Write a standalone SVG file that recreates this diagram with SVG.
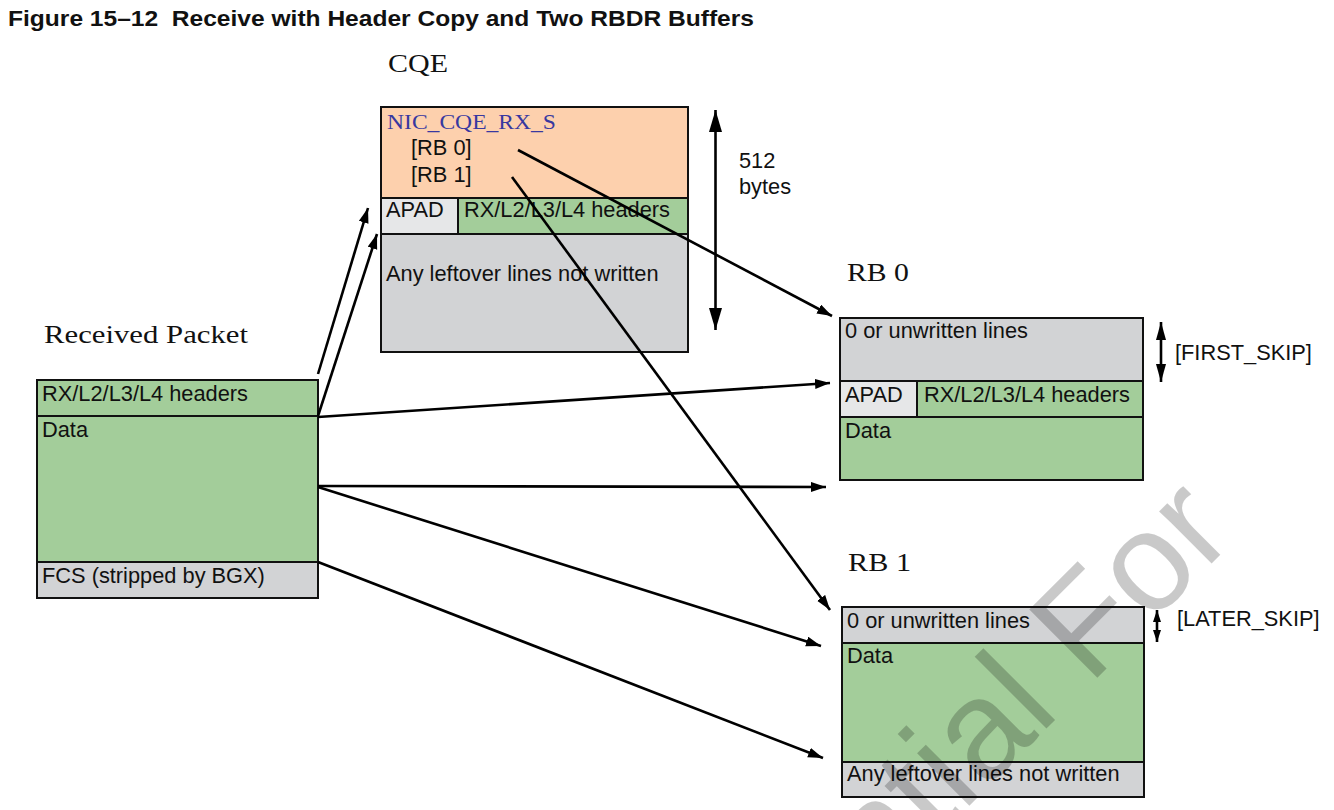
<svg xmlns="http://www.w3.org/2000/svg" width="1334" height="810" viewBox="0 0 1334 810">
<style>
.s{font-family:"Liberation Sans",Arial,sans-serif;font-size:21.8px;fill:#111}
.sf{font-family:"Liberation Serif","Times New Roman",serif;font-size:25px;fill:#111}
.box{stroke:#111;stroke-width:2}
.g{fill:#a3cd9a}
.gr{fill:#d2d3d5}
.lg{fill:#e6e7e8}
.or{fill:#fdd0ad}
.c{stroke:#000;stroke-width:2.6;fill:none}
</style>
<defs>
<marker id="ah" markerUnits="userSpaceOnUse" markerWidth="16" markerHeight="12" refX="15" refY="5" orient="auto"><path d="M0,0 L15,5 L0,10 z" fill="#000"/></marker>
<marker id="dbE" markerUnits="userSpaceOnUse" markerWidth="24" markerHeight="14" refX="22" refY="6.5" orient="auto"><path d="M0,0 L22,6.5 L0,13 z" fill="#000"/></marker>
<marker id="dbS" markerUnits="userSpaceOnUse" markerWidth="24" markerHeight="14" refX="0" refY="6.5" orient="auto"><path d="M22,0 L0,6.5 L22,13 z" fill="#000"/></marker>
<marker id="mdE" markerUnits="userSpaceOnUse" markerWidth="20" markerHeight="12" refX="18" refY="5" orient="auto"><path d="M0,0 L18,5 L0,10 z" fill="#000"/></marker>
<marker id="mdS" markerUnits="userSpaceOnUse" markerWidth="20" markerHeight="12" refX="0" refY="5" orient="auto"><path d="M18,0 L0,5 L18,10 z" fill="#000"/></marker>
<marker id="smE" markerUnits="userSpaceOnUse" markerWidth="14" markerHeight="9" refX="12" refY="4" orient="auto"><path d="M0,0 L12,4 L0,8 z" fill="#000"/></marker>
<marker id="smS" markerUnits="userSpaceOnUse" markerWidth="14" markerHeight="9" refX="0" refY="4" orient="auto"><path d="M12,0 L0,4 L12,8 z" fill="#000"/></marker>
</defs>
<rect width="1334" height="810" fill="#fff"/>

<text x="8" y="26" xml:space="preserve" style="font-family:'Liberation Sans',Arial,sans-serif;font-weight:bold;font-size:22px" fill="#111" textLength="746" lengthAdjust="spacingAndGlyphs">Figure 15–12  Receive with Header Copy and Two RBDR Buffers</text>

<g id="cqe">
<text class="sf" x="388" y="72" textLength="60" lengthAdjust="spacingAndGlyphs">CQE</text>
<rect class="or box" x="381" y="107" width="307" height="91"/>
<rect class="lg box" x="381" y="198" width="77" height="36"/>
<rect class="g box" x="458" y="198" width="230" height="36"/>
<rect class="gr box" x="381" y="234" width="307" height="118"/>
<text x="387" y="129" style="font-family:'Liberation Serif','Times New Roman',serif;font-size:21px" fill="#3838a0" textLength="169" lengthAdjust="spacingAndGlyphs">NIC_CQE_RX_S</text>
<text class="s" x="411" y="155">[RB 0]</text>
<text class="s" x="411" y="182">[RB 1]</text>
<text class="s" x="386" y="217">APAD</text>
<text class="s" x="464" y="217">RX/L2/L3/L4 headers</text>
<text class="s" x="386" y="281">Any leftover lines not written</text>
</g>

<g id="size512">
<line class="c" x1="715.5" y1="110" x2="715.5" y2="330" marker-start="url(#dbS)" marker-end="url(#dbE)"/>
<text class="s" x="739" y="168">512</text>
<text class="s" x="739" y="194">bytes</text>
</g>

<g id="packet">
<text class="sf" x="44" y="343" textLength="204" lengthAdjust="spacingAndGlyphs">Received Packet</text>
<rect class="g box" x="37" y="380" width="281" height="36"/>
<rect class="g box" x="37" y="416" width="281" height="146"/>
<rect class="gr box" x="37" y="562" width="281" height="36"/>
<text class="s" x="42" y="401">RX/L2/L3/L4 headers</text>
<text class="s" x="42" y="437">Data</text>
<text class="s" x="42" y="583">FCS (stripped by BGX)</text>
</g>

<g id="rb0">
<text class="sf" x="847" y="281" textLength="62" lengthAdjust="spacingAndGlyphs">RB 0</text>
<rect class="gr box" x="840" y="318" width="303" height="63"/>
<rect class="lg box" x="840" y="381" width="77" height="36"/>
<rect class="g box" x="917" y="381" width="226" height="36"/>
<rect class="g box" x="840" y="417" width="303" height="63"/>
<text class="s" x="845" y="338">0 or unwritten lines</text>
<text class="s" x="845" y="402">APAD</text>
<text class="s" x="924" y="402">RX/L2/L3/L4 headers</text>
<text class="s" x="845" y="438">Data</text>
<line class="c" x1="1161" y1="322" x2="1161" y2="382" marker-start="url(#mdS)" marker-end="url(#mdE)"/>
<text class="s" x="1175" y="360">[FIRST_SKIP]</text>
</g>

<g id="rb1">
<text class="sf" x="848" y="571" textLength="63" lengthAdjust="spacingAndGlyphs">RB 1</text>
<rect class="gr box" x="842" y="607" width="302" height="36"/>
<rect class="g box" x="842" y="643" width="302" height="119"/>
<rect class="gr box" x="842" y="762" width="302" height="35"/>
<text class="s" x="847" y="628">0 or unwritten lines</text>
<text class="s" x="847" y="663">Data</text>
<text class="s" x="847" y="781">Any leftover lines not written</text>
<line class="c" x1="1157" y1="610" x2="1157" y2="642" stroke-width="2" marker-start="url(#smS)" marker-end="url(#smE)"/>
<text class="s" x="1177" y="626">[LATER_SKIP]</text>
</g>

<g id="connectors">
<line class="c" x1="318" y1="374" x2="368" y2="208" marker-end="url(#ah)"/>
<line class="c" x1="318" y1="416" x2="377" y2="234" marker-end="url(#ah)"/>
<line class="c" x1="318" y1="417" x2="830" y2="383" marker-end="url(#ah)"/>
<line class="c" x1="318" y1="486" x2="826" y2="487" marker-end="url(#ah)"/>
<line class="c" x1="318" y1="487" x2="821" y2="646" marker-end="url(#ah)"/>
<line class="c" x1="318" y1="562" x2="823" y2="758" marker-end="url(#ah)"/>
<line class="c" x1="518" y1="150" x2="832" y2="316" marker-end="url(#ah)"/>
<line class="c" x1="512" y1="177" x2="830" y2="610" marker-end="url(#ah)"/>
</g>

<text transform="translate(539,1236) rotate(-45)" x="0" y="0" style="font-family:'Liberation Sans',Arial,sans-serif;font-size:140px" fill="#000" fill-opacity="0.21">Confidential For</text>
</svg>
